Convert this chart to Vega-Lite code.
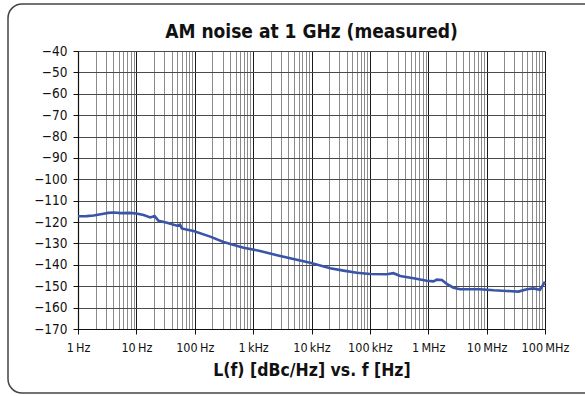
{
  "$schema": "https://vega.github.io/schema/vega-lite/v6.json",
  "width": 467,
  "height": 278,
  "autosize": {"type": "none"},
  "padding": {"left": 78, "top": 51, "right": 40, "bottom": 67},
  "background": "white",
  "title": {
    "text": "AM noise at 1 GHz (measured)",
    "font": "DejaVu Sans Condensed, sans-serif",
    "fontSize": 19,
    "fontWeight": "bold",
    "color": "#111",
    "anchor": "middle",
    "baseline": "alphabetic",
    "offset": 0,
    "dy": 54
  },
  "config": {
    "view": {"stroke": null},
    "axis": {
      "labelFont": "DejaVu Sans Condensed, sans-serif",
      "titleFont": "DejaVu Sans Condensed, sans-serif",
      "labelColor": "#111",
      "titleColor": "#111",
      "domainColor": "#111",
      "tickColor": "#111"
    }
  },
  "layer": [
    {
      "data": {"values": [{}]},
      "mark": {
        "type": "rect",
        "x": -70,
        "y": -47,
        "x2": 540,
        "y2": 342,
        "fill": null,
        "stroke": "#444",
        "strokeWidth": 1.5,
        "cornerRadius": 14
      },
      "encoding": {}
    },
    {
      "data": {
        "values": [
          {"f": 1, "L": -117.3},
          {"f": 1.4, "L": -117.2},
          {"f": 1.85, "L": -116.9},
          {"f": 2.74, "L": -116.1},
          {"f": 3.3, "L": -115.7},
          {"f": 4.07, "L": -115.5},
          {"f": 5.5, "L": -115.8},
          {"f": 7.5, "L": -115.7},
          {"f": 10, "L": -116.0},
          {"f": 13.3, "L": -116.7},
          {"f": 17.3, "L": -117.8},
          {"f": 20.5, "L": -117.2},
          {"f": 24, "L": -119.4},
          {"f": 33.4, "L": -120.3},
          {"f": 49.5, "L": -121.7},
          {"f": 56, "L": -121.2},
          {"f": 60, "L": -123.0},
          {"f": 68.8, "L": -123.4},
          {"f": 95.5, "L": -124.2},
          {"f": 184, "L": -126.8},
          {"f": 311, "L": -129.3},
          {"f": 685, "L": -132.0},
          {"f": 1318, "L": -133.5},
          {"f": 2565, "L": -135.5},
          {"f": 4900, "L": -137.3},
          {"f": 9500, "L": -139.0},
          {"f": 20900, "L": -141.6},
          {"f": 35300, "L": -142.7},
          {"f": 59800, "L": -143.7},
          {"f": 101000, "L": -144.3},
          {"f": 195000, "L": -144.4},
          {"f": 254000, "L": -143.9},
          {"f": 330000, "L": -145.2},
          {"f": 558000, "L": -146.3},
          {"f": 946000, "L": -147.4},
          {"f": 1230000, "L": -147.7},
          {"f": 1400000, "L": -146.9},
          {"f": 1710000, "L": -147.1},
          {"f": 2080000, "L": -148.9},
          {"f": 2700000, "L": -150.7},
          {"f": 3500000, "L": -151.4},
          {"f": 7700000, "L": -151.4},
          {"f": 13100000, "L": -151.9},
          {"f": 22000000, "L": -152.2},
          {"f": 35000000, "L": -152.5},
          {"f": 49000000, "L": -151.4},
          {"f": 63000000, "L": -151.0},
          {"f": 82000000, "L": -151.7},
          {"f": 100000000, "L": -147.9}
        ]
      },
      "mark": {"type": "line", "color": "#3a55a8", "strokeWidth": 2.6, "interpolate": "linear"},
      "encoding": {
        "x": {
          "field": "f",
          "type": "quantitative",
          "scale": {"type": "log", "domain": [1, 100000000], "nice": false},
          "axis": {
            "title": "L(f) [dBc/Hz] vs. f [Hz]",
            "titleFontSize": 17.5,
            "titleFontWeight": "bold",
            "titlePadding": 8,
            "labelFontSize": 12.5,
            "labelPadding": 7,
            "tickSize": 5,
            "labelFlush": false,
            "labelOverlap": false,
            "values": [1,2,3,4,5,6,7,8,9,10,20,30,40,50,60,70,80,90,100,200,300,400,500,600,700,800,900,1000,2000,3000,4000,5000,6000,7000,8000,9000,10000,20000,30000,40000,50000,60000,70000,80000,90000,100000,200000,300000,400000,500000,600000,700000,800000,900000,1000000,2000000,3000000,4000000,5000000,6000000,7000000,8000000,9000000,10000000,20000000,30000000,40000000,50000000,60000000,70000000,80000000,90000000,100000000],
            "labelExpr": "datum.value == 1 ? '1\u2009Hz' : datum.value == 10 ? '10\u2009Hz' : datum.value == 100 ? '100\u2009Hz' : datum.value == 1000 ? '1\u2009kHz' : datum.value == 10000 ? '10\u2009kHz' : datum.value == 100000 ? '100\u2009kHz' : datum.value == 1000000 ? '1\u2009MHz' : datum.value == 10000000 ? '10\u2009MHz' : datum.value == 100000000 ? '100\u2009MHz' : ''",
            "grid": true,
            "gridColor": {"condition": {"test": "indexof([1,10,100,1000,10000,100000,1000000,10000000,100000000], datum.value) >= 0", "value": "#1a1a1a"}, "value": "#8c8c8c"},
            "gridOpacity": 1,
            "gridWidth": 1,
            "tickOpacity": {"condition": {"test": "indexof([1,10,100,1000,10000,100000,1000000,10000000,100000000], datum.value) >= 0", "value": 1}, "value": 0},
            "domainColor": "#111",
            "domainWidth": 1.2
          }
        },
        "y": {
          "field": "L",
          "type": "quantitative",
          "scale": {"domain": [-170, -40], "nice": false, "zero": false},
          "axis": {
            "title": null,
            "values": [-170,-160,-150,-140,-130,-120,-110,-100,-90,-80,-70,-60,-50,-40],
            "labelFontSize": 13.5,
            "labelPadding": 6,
            "tickSize": 5,
            "grid": true,
            "gridColor": "#4a4a4a",
            "gridOpacity": 1,
            "gridWidth": 1,
            "domainColor": "#111",
            "domainWidth": 1.2
          }
        }
      }
    }
  ]
}
